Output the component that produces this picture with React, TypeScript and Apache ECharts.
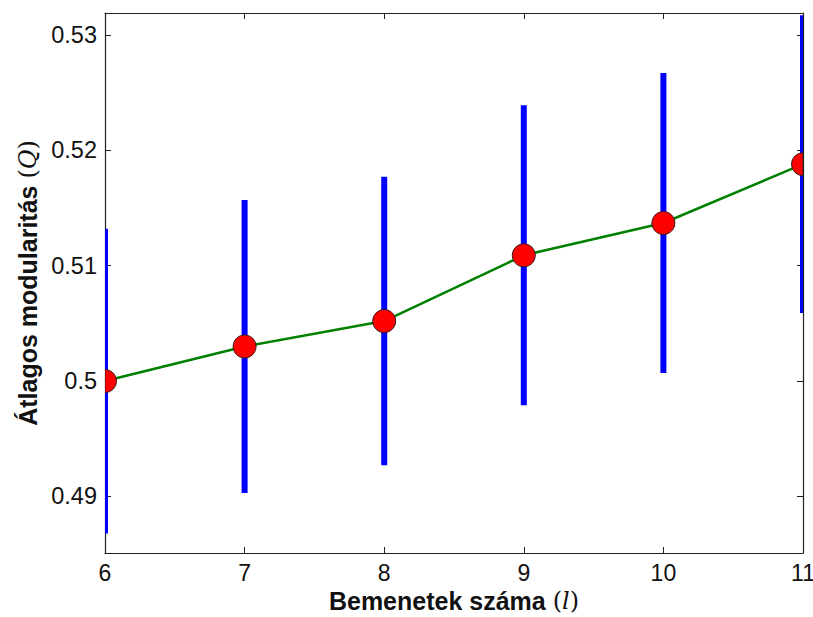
import React, { useEffect, useRef } from "react";
import * as echarts from "echarts";

const xValues = [6, 7, 8, 9, 10, 11];
const meanQ = [0.5, 0.503, 0.5052, 0.5109, 0.5137, 0.5188];
const errQ = [0.0132, 0.0127, 0.0125, 0.013, 0.013, 0.0129];
const yTicks = [0.49, 0.5, 0.51, 0.52, 0.53];
const yTickLabels = ["0.49", "0.5", "0.51", "0.52", "0.53"];

const Y_MIN = 0.4851;
const Y_MAX = 0.5319;

export default function App() {
  const ref = useRef<HTMLDivElement>(null);
  useEffect(() => {
    if (!ref.current) return;
    const chart = echarts.init(ref.current, undefined, { renderer: "svg" });
    const font = "Liberation Sans, Arial, Helvetica, sans-serif";
    const pts = xValues.map((x, i) => [x, meanQ[i]]);
    const errData = xValues.map((x, i) => [x, meanQ[i] - errQ[i], meanQ[i] + errQ[i]]);
    const tickLabelMap: Record<string, string> = {};
    yTicks.forEach((v, i) => (tickLabelMap[v.toFixed(2)] = yTickLabels[i]));
    const axisCol = "#222";
    const titleRich = {
      b: { fontFamily: font, fontWeight: "bold", fontSize: 25, color: "#111" },
      m: { fontFamily: "DejaVu Serif, serif", fontSize: 24, color: "#111" },
      i: { fontFamily: "DejaVu Serif, serif", fontStyle: "italic", fontSize: 24, color: "#111" },
    };

    chart.setOption({
      animation: false,
      backgroundColor: "#ffffff",
      grid: { left: 105, top: 13, width: 698, height: 540, containLabel: false, outerBoundsMode: "none" },
      xAxis: [
        {
          type: "value",
          min: 6,
          max: 11,
          interval: 1,
          position: "bottom",
          axisLine: { show: true, onZero: false, lineStyle: { color: axisCol, width: 1.2 } },
          axisTick: { show: true, inside: true, length: 6, lineStyle: { color: axisCol } },
          axisLabel: { show: true, fontFamily: font, fontSize: 23, color: "#111", margin: 8 },
          splitLine: { show: false },
          name: "{b|Bemenetek száma }{m|(}{i|l}{m|)}",
          nameLocation: "middle",
          nameGap: 34,
          nameTextStyle: { rich: titleRich },
        },
        {
          type: "value",
          min: 6,
          max: 11,
          interval: 1,
          position: "top",
          axisLine: { show: true, onZero: false, lineStyle: { color: axisCol, width: 1.2 } },
          axisTick: { show: true, inside: true, length: 6, lineStyle: { color: axisCol } },
          axisLabel: { show: false },
          splitLine: { show: false },
        },
      ],
      yAxis: [
        {
          type: "value",
          min: Y_MIN,
          max: Y_MAX,
          position: "left",
          axisLine: { show: true, onZero: false, lineStyle: { color: axisCol, width: 1.2 } },
          axisTick: { show: true, inside: true, length: 6, customValues: yTicks, lineStyle: { color: axisCol } },
          axisLabel: {
            show: true,
            customValues: yTicks,
            fontFamily: font,
            fontSize: 23.5,
            color: "#111",
            margin: 8,
            formatter: (v: number) => tickLabelMap[v.toFixed(2)] ?? "",
          },
          splitLine: { show: false },
          name: "{b|Átlagos modularitás }{m|(}{i|Q}{m|)}",
          nameLocation: "middle",
          nameGap: 64,
          nameTextStyle: { rich: titleRich },
        },
        {
          type: "value",
          min: Y_MIN,
          max: Y_MAX,
          position: "right",
          axisLine: { show: true, onZero: false, lineStyle: { color: axisCol, width: 1.2 } },
          axisTick: { show: true, inside: true, length: 6, customValues: yTicks, lineStyle: { color: axisCol } },
          axisLabel: { show: false },
          splitLine: { show: false },
        },
      ],
      series: [
        {
          type: "custom",
          name: "err",
          xAxisIndex: 0,
          yAxisIndex: 0,
          clip: true,
          z: 1,
          data: errData,
          renderItem: (params: any, api: any) => {
            const x = api.value(0);
            const lo = api.coord([x, api.value(1)]);
            const hi = api.coord([x, api.value(2)]);
            const cs = params.coordSys;
            const rect = echarts.graphic.clipRectByRect(
              { x: lo[0] - 3, y: hi[1], width: 6, height: lo[1] - hi[1] },
              { x: cs.x, y: cs.y, width: cs.width, height: cs.height }
            );
            if (!rect) return null;
            return {
              type: "rect",
              shape: rect,
              style: { fill: "#0000ff" },
            };
          },
        },
        {
          type: "line",
          name: "mean",
          xAxisIndex: 0,
          yAxisIndex: 0,
          data: pts,
          symbol: "none",
          z: 2,
          lineStyle: { color: "#008000", width: 2.5 },
        },
        {
          type: "custom",
          name: "markers",
          xAxisIndex: 0,
          yAxisIndex: 0,
          clip: true,
          z: 3,
          data: pts,
          renderItem: (params: any, api: any) => {
            const c = api.coord([api.value(0), api.value(1)]);
            const cs = params.coordSys;
            const r = 11.5;
            const style = { fill: "#ff0000", stroke: "#3a1a1a", lineWidth: 1 };
            if (Math.abs(c[0] - cs.x) < 1) {
              return {
                type: "sector",
                shape: { cx: c[0], cy: c[1], r0: 0, r, startAngle: -Math.PI / 2, endAngle: Math.PI / 2, clockwise: true },
                style,
              };
            }
            if (Math.abs(c[0] - (cs.x + cs.width)) < 1) {
              return {
                type: "sector",
                shape: { cx: c[0], cy: c[1], r0: 0, r, startAngle: Math.PI / 2, endAngle: (3 * Math.PI) / 2, clockwise: true },
                style,
              };
            }
            return {
              type: "circle",
              shape: { cx: c[0], cy: c[1], r },
              style,
            };
          },
        },
      ],
    });
    return () => chart.dispose();
  }, []);
  return (
    <div
      ref={ref}
      style={{ position: "fixed", left: 0, top: 0, width: 813, height: 617, background: "#fff" }}
    />
  );
}
